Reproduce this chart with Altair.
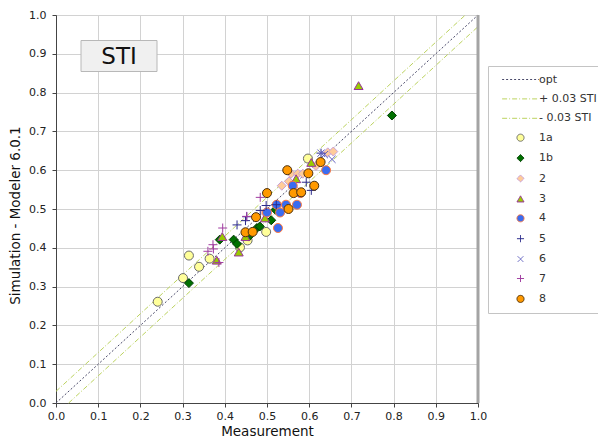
import altair as alt
import pandas as pd

series = ["opt", "+ 0.03 STI", "- 0.03 STI", "1a", "1b", "2", "3", "4", "5", "6", "7", "8"]

# reference lines (end points)
opt_x = [0.0, 1.0]
opt_y = [0.0, 1.0]
plus_x = [0.0, 0.97]
plus_y = [0.03, 1.0]
minus_x = [0.03, 1.0]
minus_y = [0.0, 0.97]

# measured series
s1a_x = [0.241, 0.301, 0.315, 0.339, 0.364, 0.436, 0.454, 0.498, 0.597]
s1a_y = [0.261, 0.322, 0.380, 0.351, 0.372, 0.401, 0.419, 0.441, 0.630]
s1b_x = [0.315, 0.388, 0.421, 0.429, 0.457, 0.476, 0.483, 0.510, 0.520, 0.796]
s1b_y = [0.309, 0.421, 0.421, 0.410, 0.429, 0.451, 0.455, 0.471, 0.498, 0.741]
s2_x = [0.495, 0.535, 0.552, 0.557, 0.573, 0.585, 0.567, 0.616, 0.644, 0.657]
s2_y = [0.490, 0.560, 0.571, 0.591, 0.591, 0.591, 0.550, 0.611, 0.646, 0.648]
s3_x = [0.381, 0.394, 0.433, 0.449, 0.495, 0.569, 0.605, 0.717]
s3_y = [0.368, 0.429, 0.389, 0.429, 0.477, 0.578, 0.620, 0.818]
s4_x = [0.500, 0.523, 0.526, 0.531, 0.545, 0.571, 0.561, 0.579, 0.640]
s4_y = [0.491, 0.511, 0.451, 0.491, 0.511, 0.511, 0.560, 0.541, 0.600]
s5_x = [0.429, 0.449, 0.452, 0.484, 0.498, 0.522, 0.593, 0.605, 0.628]
s5_y = [0.459, 0.470, 0.480, 0.496, 0.509, 0.511, 0.569, 0.548, 0.644]
s6_x = [0.628, 0.636, 0.654]
s6_y = [0.644, 0.640, 0.628]
s7_x = [0.360, 0.372, 0.373, 0.386, 0.395, 0.452, 0.484]
s7_y = [0.391, 0.408, 0.397, 0.362, 0.451, 0.481, 0.530]
s8_x = [0.449, 0.466, 0.474, 0.500, 0.551, 0.563, 0.581, 0.548, 0.598, 0.612, 0.627]
s8_y = [0.440, 0.441, 0.479, 0.541, 0.500, 0.541, 0.543, 0.600, 0.592, 0.560, 0.621]

ticks = [0.0, 0.1, 0.2, 0.3, 0.4, 0.5, 0.6, 0.7, 0.8, 0.9, 1.0]
right_border_x = [1.0]
x_title = "Measurement"
y_title = "Simulation - Modeler 6.0.1"
box_label = ["STI"]

line_rows = []
for name, xs, ys in [("opt", opt_x, opt_y), ("+ 0.03 STI", plus_x, plus_y), ("- 0.03 STI", minus_x, minus_y)]:
    for i, (a, b) in enumerate(zip(xs, ys)):
        line_rows.append({"s": name, "x": a, "y": b, "o": i})
lines_df = pd.DataFrame(line_rows)

pt_rows = []
for name, xs, ys in [("1a", s1a_x, s1a_y), ("1b", s1b_x, s1b_y), ("2", s2_x, s2_y), ("3", s3_x, s3_y),
                     ("4", s4_x, s4_y), ("5", s5_x, s5_y), ("6", s6_x, s6_y), ("7", s7_x, s7_y), ("8", s8_x, s8_y)]:
    for a, b in zip(xs, ys):
        pt_rows.append({"s": name, "x": a, "y": b})
pts_df = pd.DataFrame(pt_rows)

LINE = "M-5.2,0H5.2"
PLUS = "M-1,0H1M0,-1V1"
XSH = "M-0.8,-0.8L0.8,0.8M-0.8,0.8L0.8,-0.8"

stroke_range = ["#4a4a6a", "#bcd35f", "#bcd35f", "#6a6a6a", "#003c00", "#c8a0d8", "#993399",
                "#ff7a40", "#2a2a8a", "#6060c0", "#a03ca0", "#4a3010"]
fill_range = ["transparent", "transparent", "transparent", "#ffff99", "#007000", "#ffcc99", "#99cc00",
              "#3a6cf0", "transparent", "transparent", "transparent", "#ff9900"]
shape_range = [LINE, LINE, LINE, "circle", "diamond", "diamond", "triangle-up", "circle", PLUS, XSH, PLUS, "circle"]
dash_range = [[2, 2], [5, 2, 1, 2], [5, 2, 1, 2]] + [[1, 0]] * 9

leg = alt.Legend(
    title=None, orient="none", legendX=432, legendY=51,
    padding=8, symbolOffset=19, labelOffset=13, rowPadding=7.4,
    strokeColor="#c4c4c4", fillColor="white",
    labelFont="DejaVu Sans", labelFontSize=11, labelColor="#333333",
    symbolSize=50, symbolStrokeWidth=1, symbolOpacity=1,
)

xscale = alt.Scale(domain=[0, 1], nice=False)
yscale = alt.Scale(domain=[0, 1], nice=False)
axis_common = dict(values=ticks, format=".1f", tickSize=4, labelFlush=False, labelOverlap=False,
                   domainColor="#444444", tickColor="#444444", gridColor="#d2d2d2",
                   labelFont="DejaVu Sans", labelFontSize=11, labelColor="#222222",
                   titleFont="DejaVu Sans", titleFontWeight="normal", titleColor="#111111")
xaxis = alt.Axis(title=x_title, labelPadding=3, titleY=32, titleBaseline="alphabetic",
                 titleFontSize=13.5, **axis_common)
yaxis = alt.Axis(title=y_title, labelPadding=6, titlePadding=6, titleY=200,
                 titleFontSize=13.5, **axis_common)

lines = alt.Chart(lines_df).mark_line(strokeWidth=1).encode(
    x=alt.X("x:Q", scale=xscale, axis=xaxis),
    y=alt.Y("y:Q", scale=yscale, axis=yaxis),
    order="o:Q",
    stroke=alt.Stroke("s:N", scale=alt.Scale(domain=series, range=stroke_range), legend=leg),
    strokeDash=alt.StrokeDash("s:N", scale=alt.Scale(domain=series, range=dash_range), legend=leg),
)

points = alt.Chart(pts_df).mark_point(filled=True, opacity=1, size=81, strokeWidth=1).encode(
    x=alt.X("x:Q", scale=xscale, axis=xaxis),
    y=alt.Y("y:Q", scale=yscale, axis=yaxis),
    stroke=alt.Stroke("s:N", scale=alt.Scale(domain=series, range=stroke_range), legend=leg),
    fill=alt.Fill("s:N", scale=alt.Scale(domain=series, range=fill_range), legend=leg),
    shape=alt.Shape("s:N", scale=alt.Scale(domain=series, range=shape_range), legend=leg),
)

border = alt.Chart(pd.DataFrame({"x": right_border_x})).mark_rule(color="#a4a4a4", strokeWidth=3).encode(
    x=alt.X("x:Q", scale=xscale, axis=xaxis)
)

box_df = pd.DataFrame({"label": box_label})
box = alt.Chart(box_df).mark_rect(fill="#f0f0f0", stroke="#b8b8b8", strokeWidth=1).encode(
    x=alt.value(25), x2=alt.value(101), y=alt.value(25.5), y2=alt.value(56.5)
)
box_text = alt.Chart(box_df).mark_text(font="DejaVu Sans", fontSize=23, color="#111111",
                                       align="center", baseline="middle").encode(
    x=alt.value(63), y=alt.value(41.5), text="label:N"
)

chart = alt.layer(lines, points, border, box, box_text).properties(
    width=422, height=388,
    autosize=alt.AutoSizeParams(type="none"),
    padding={"left": 48, "top": 7, "right": 120, "bottom": 36},
    background="white",
).configure_view(stroke="#555555", strokeWidth=1)

chart.save("out.html", embed_options={"renderer": "svg", "actions": False})
